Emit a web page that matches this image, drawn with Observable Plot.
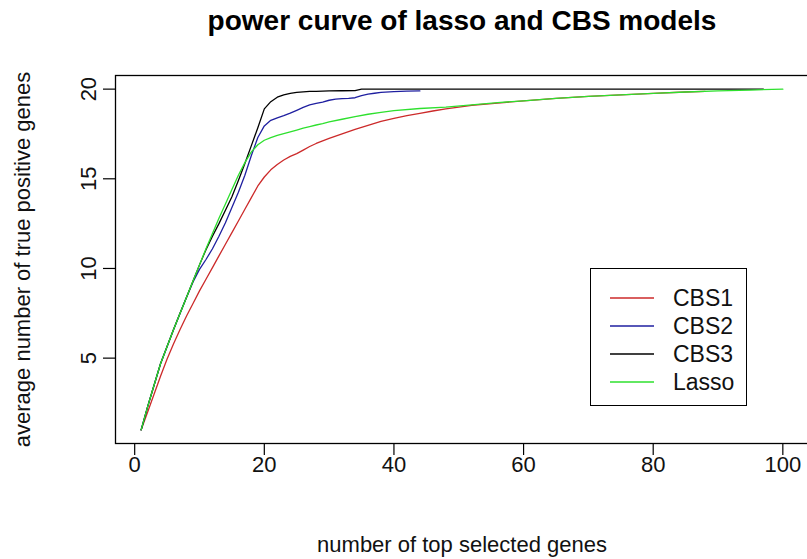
<!DOCTYPE html>
<html>
<head>
<meta charset="utf-8">
<script src="https://cdn.jsdelivr.net/npm/d3@7"></script>
<script src="https://cdn.jsdelivr.net/npm/@observablehq/plot@0.6"></script>
<style>
  html, body { margin: 0; padding: 0; background: #fff; }
  #wrap { position: relative; width: 807px; height: 559px; overflow: hidden; font-family: "Liberation Sans", Arial, sans-serif; }
  #legend { position: absolute; left: 590px; top: 268px; width: 157px; height: 138px; border: 1.3px solid #000; box-sizing: border-box; background: #fff; }
  .row { position: absolute; left: 0; height: 28px; display: flex; align-items: center; }
  .row svg { margin-left: 19px; }
  .row span { margin-left: 19px; font-size: 23px; color: #111; }
</style>
</head>
<body>
<div id="wrap"></div>
<script>
// ---- data ----
const seriesNames = ["CBS1", "CBS2", "CBS3", "Lasso"];
const seriesColors = ["#cc2a2a", "#1f1fa0", "#000000", "#2ee02e"];

const xCBS1 = [1,2,3,4,5,6,7,8,9,10,11,12,13,14,15,16,17,18,19,20,21,22,23,24,25,26,27,28,29,30,32,34,36,38,40,42,44,46,48,50,52,56,60,65,70,75,80,85,88];
const yCBS1 = [1,2,3,4,4.95,5.8,6.6,7.35,8.05,8.75,9.4,10.05,10.7,11.35,12.0,12.65,13.3,13.95,14.6,15.1,15.5,15.8,16.05,16.25,16.4,16.6,16.8,16.97,17.12,17.25,17.5,17.75,17.98,18.2,18.37,18.52,18.65,18.78,18.9,19.0,19.1,19.22,19.35,19.48,19.6,19.68,19.76,19.84,19.88];

const xCBS2 = [1,2,3,4,5,6,7,8,9,10,11,12,13,14,15,16,17,18,19,20,21,22,23,24,25,26,27,28,29,30,31,32,33,34,35,36,37,38,40,42,44];
const yCBS2 = [1,2.3,3.5,4.7,5.65,6.6,7.5,8.4,9.25,9.95,10.5,11.1,11.8,12.55,13.4,14.25,15.2,16.3,17.3,17.95,18.26,18.4,18.52,18.66,18.82,18.98,19.12,19.2,19.28,19.38,19.44,19.47,19.48,19.52,19.64,19.72,19.77,19.82,19.86,19.89,19.9];

const xCBS3 = [1,2,3,4,5,6,7,8,9,10,11,12,13,14,15,16,17,18,19,20,21,22,23,24,25,26,27,28,29,30,32,34,35,97];
const yCBS3 = [1,2.3,3.5,4.7,5.65,6.6,7.5,8.4,9.3,10.2,11.05,11.8,12.5,13.25,14.0,14.9,15.85,16.85,17.85,18.9,19.3,19.55,19.68,19.76,19.82,19.85,19.87,19.88,19.89,19.9,19.91,19.92,20,20];

const xLasso = [1,2,3,4,5,6,7,8,9,10,11,12,13,14,15,16,17,18,19,20,21,22,23,24,25,26,27,28,29,30,32,34,36,38,40,44,48,52,56,60,65,70,75,80,85,90,95,100];
const yLasso = [1,2.3,3.5,4.7,5.65,6.6,7.5,8.4,9.3,10.2,11.1,11.95,12.8,13.6,14.4,15.2,15.9,16.5,16.9,17.15,17.3,17.42,17.52,17.62,17.72,17.82,17.91,18.0,18.08,18.17,18.32,18.47,18.6,18.7,18.8,18.92,19.0,19.12,19.25,19.35,19.48,19.6,19.68,19.76,19.84,19.9,19.95,20];

const xTicks = [0, 20, 40, 60, 80, 100];
const yTicks = [5, 10, 15, 20];

const titleText = "power curve of lasso and CBS models";
const xLabel = "number of top selected genes";
const yLabel = "average number of true positive genes";

// ---- build table ----
const xs = [xCBS1, xCBS2, xCBS3, xLasso];
const ys = [yCBS1, yCBS2, yCBS3, yLasso];
const rows = [];
seriesNames.forEach((name, i) => {
  xs[i].forEach((x, j) => rows.push({series: name, x, y: ys[i][j]}));
});

const font = "Liberation Sans, Arial, sans-serif";

const chart = Plot.plot({
  width: 807,
  height: 559,
  marginLeft: 115,
  marginRight: -1,
  marginTop: 75,
  marginBottom: 116,
  style: {fontFamily: font, background: "white", color: "#000", overflow: "visible"},
  x: {domain: [-2.96, 103.96]},
  y: {domain: [0.24, 20.76]},
  color: {domain: seriesNames, range: seriesColors},
  marks: [
    Plot.axisX({ticks: xTicks, tickSize: 12, tickFormat: () => "", label: null, strokeWidth: 1.2}),
    Plot.axisY({ticks: yTicks, tickSize: 12, tickFormat: () => "", label: null, strokeWidth: 1.2}),
    Plot.text(xTicks, {x: d => d, frameAnchor: "bottom", dy: 21, lineAnchor: "middle", textAnchor: "middle", text: d => String(d), fontSize: 22, fill: "#111"}),
    Plot.text(yTicks, {y: d => d, frameAnchor: "left", dx: -27, rotate: -90, textAnchor: "middle", lineAnchor: "middle", text: d => String(d), fontSize: 22, fill: "#111"}),
    Plot.text([xLabel], {frameAnchor: "bottom", dy: 101, lineAnchor: "middle", textAnchor: "middle", text: d => d, fontSize: 22, fill: "#111"}),
    Plot.text([yLabel], {frameAnchor: "left", dx: -93, rotate: -90, textAnchor: "middle", lineAnchor: "middle", text: d => d, fontSize: 22, fill: "#111"}),
    Plot.text([titleText], {frameAnchor: "top", dy: -54, lineAnchor: "middle", textAnchor: "middle", text: d => d, fontSize: 28, fontWeight: "bold", fill: "#000"}),
    Plot.line(rows, {x: "x", y: "y", z: "series", stroke: "series", strokeWidth: 1.3}),
    Plot.frame({stroke: "#000", strokeWidth: 1.3})
  ]
});

const wrap = document.getElementById("wrap");
wrap.appendChild(chart);

// legend
const legend = document.createElement("div");
legend.id = "legend";
seriesNames.forEach((name, i) => {
  const row = document.createElement("div");
  row.className = "row";
  row.style.top = (15 + i * 28) + "px";
  row.innerHTML = `<svg width="44" height="4"><line x1="0" x2="44" y1="2" y2="2" stroke="${seriesColors[i]}" stroke-width="1.6"/></svg><span>${name}</span>`;
  legend.appendChild(row);
});
wrap.appendChild(legend);
</script>
</body>
</html>
